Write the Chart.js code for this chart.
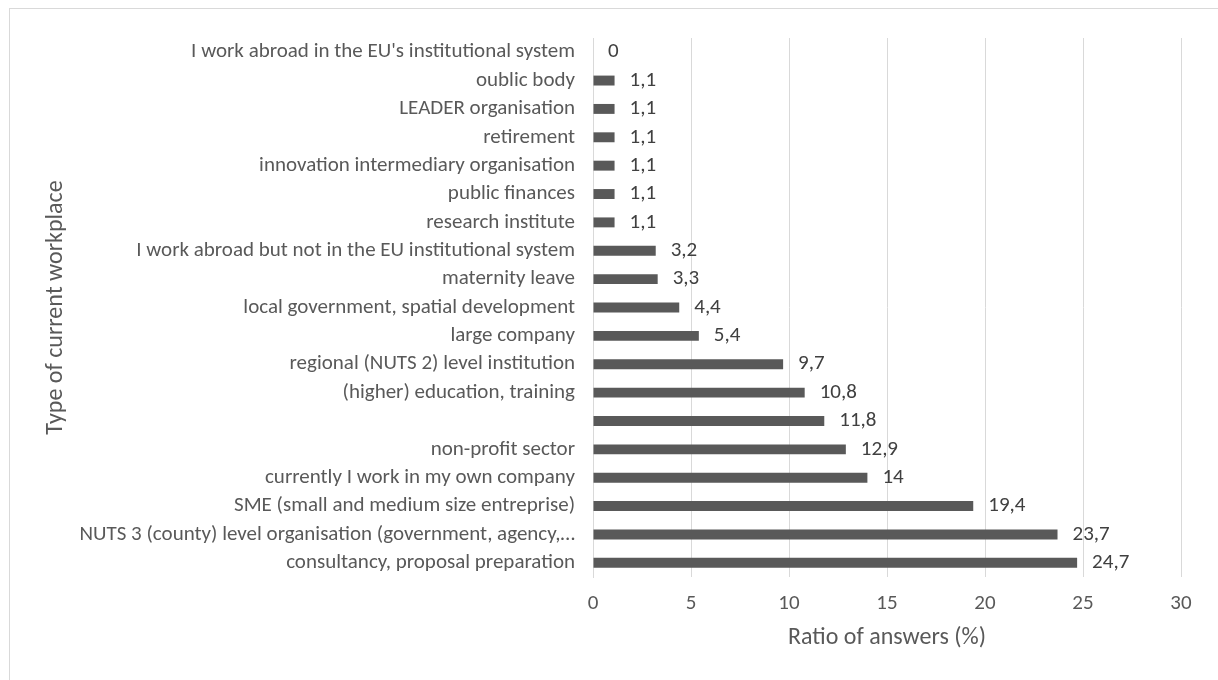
<!DOCTYPE html>
<html>
<head>
<meta charset="utf-8">
<title>Type of current workplace</title>
<script src="https://cdn.jsdelivr.net/npm/chart.js@4.4.1/dist/chart.umd.min.js"></script>
<style>
  html, body { margin: 0; padding: 0; background: #fff; overflow: hidden; }
  #wrap { position: relative; width: 1218px; height: 680px; }
  #frame {
    position: absolute; left: 9px; top: 8px; width: 1400px; height: 900px;
    border: 1px solid #d9d9d9; pointer-events: none;
  }
</style>
</head>
<body>
<div id="wrap">
  <canvas id="chart-workplace"></canvas>
  <div id="frame"></div>
</div>
<script>
// ── Data (top to bottom) ─────────────────────────────
const workplaces = [
  "I work abroad in the EU's institutional system",
  'oublic body',
  'LEADER organisation',
  'retirement',
  'innovation intermediary organisation',
  'public finances',
  'research institute',
  'I work abroad but not in the EU institutional system',
  'maternity leave',
  'local government, spatial development',
  'large company',
  'regional (NUTS 2) level institution',
  '(higher) education, training',
  '',
  'non-profit sector',
  'currently I work in my own company',
  'SME (small and medium size entreprise)',
  'NUTS 3 (county) level organisation (government, agency,…',
  'consultancy, proposal preparation'
];
const answerRatio = [0, 1.1, 1.1, 1.1, 1.1, 1.1, 1.1, 3.2, 3.3, 4.4, 5.4, 9.7, 10.8, 11.8, 12.9, 14, 19.4, 23.7, 24.7];
const ratioTicks = [0, 5, 10, 15, 20, 25, 30];

const FONT = "Carlito, Lato, 'Open Sans', sans-serif";
const TEXT = '#595959';
const BAR = '#595959';
const GRID = '#d9d9d9';

// value labels to the right of each bar, decimal comma
const valueLabels = {
  id: 'valueLabels',
  afterDatasetsDraw(chart) {
    const { ctx } = chart;
    const meta = chart.getDatasetMeta(0);
    ctx.save();
    ctx.font = '21px ' + FONT;
    ctx.fillStyle = '#404040';
    ctx.textAlign = 'left';
    ctx.textBaseline = 'middle';
    meta.data.forEach((bar, i) => {
      const txt = String(answerRatio[i]).replace('.', ',');
      ctx.fillText(txt, bar.x + 15, bar.y);
    });
    ctx.restore();
  }
};

new Chart(document.getElementById('chart-workplace'), {
  type: 'bar',
  data: {
    labels: workplaces,
    datasets: [{
      data: answerRatio,
      backgroundColor: BAR,
      borderWidth: 0,
      categoryPercentage: 0.35,
      barPercentage: 1
    }]
  },
  options: {
    indexAxis: 'y',
    responsive: true,
    maintainAspectRatio: false,
    animation: false,
    layout: { padding: { top: 38, right: 37, bottom: 0, left: 0 } },
    plugins: { legend: { display: false }, tooltip: { enabled: false } },
    scales: {
      x: {
        min: 0,
        max: 30,
        afterBuildTicks: s => { s.ticks = ratioTicks.map(v => ({ value: v })); },
        afterFit: s => { s.height = 103; },
        grid: { color: GRID, drawTicks: false },
        border: { display: false },
        ticks: { color: TEXT, font: { family: FONT, size: 21 }, padding: 14 },
        title: {
          display: true,
          text: 'Ratio of answers (%)',
          color: TEXT,
          font: { family: FONT, size: 24 },
          padding: { top: 0, bottom: 28 }
        }
      },
      y: {
        afterFit: s => { s.width = 593; },
        grid: { display: false, drawTicks: false },
        border: { display: true, color: GRID, width: 1 },
        ticks: { color: TEXT, font: { family: FONT, size: 21 }, padding: 18, autoSkip: false },
        title: {
          display: true,
          text: 'Type of current workplace',
          color: TEXT,
          font: { family: FONT, size: 24 },
          padding: { top: 42, bottom: 0 }
        }
      }
    }
  },
  plugins: [valueLabels]
});
</script>
</body>
</html>
